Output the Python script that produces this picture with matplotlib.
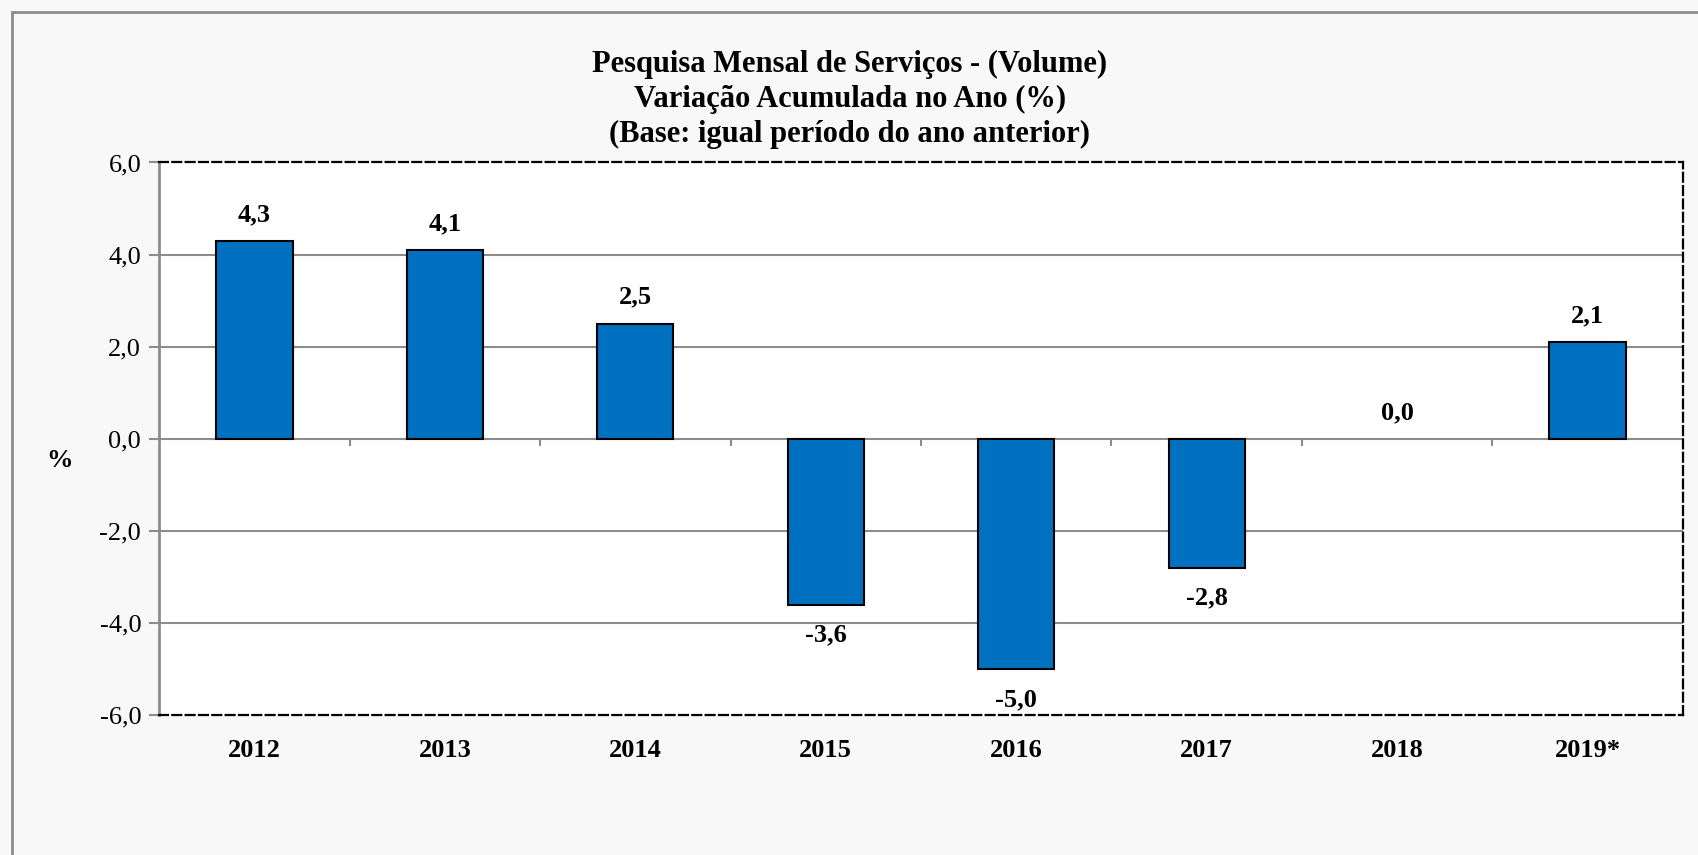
import numpy as np
import matplotlib.pyplot as plt
from matplotlib.patches import Rectangle

# data
years = ['2012', '2013', '2014', '2015', '2016', '2017', '2018', '2019*']
values = [4.3, 4.1, 2.5, -3.6, -5.0, -2.8, 0.0, 2.1]
yticks = [-6.0, -4.0, -2.0, 0.0, 2.0, 4.0, 6.0]
title_lines = ['Pesquisa Mensal de Serviços - (Volume)',
               'Variação Acumulada no Ano (%)',
               '(Base: igual período do ano anterior)']

plt.rcParams['font.family'] = ['Liberation Serif', 'DejaVu Serif']

BAR_COLOR = '#0070C0'
GRID_COLOR = '#8c8c8c'
BG = '#f8f8f8'


def fmt(v):
    return f"{v:.1f}".replace('.', ',')


def main():
    fig = plt.figure(figsize=(16.99, 8.55), dpi=100)
    fig.patch.set_facecolor(BG)

    # outer chart frame (runs past the right/bottom edges)
    fig.patches.append(Rectangle((12 / 1699, -0.05), 1.1, 1 - 12 / 855 + 0.05,
                                 transform=fig.transFigure, fill=False,
                                 edgecolor=GRID_COLOR, linewidth=2))

    ax = fig.add_axes([159.3 / 1699, 1 - 715 / 855,
                       (1682.7 - 159.3) / 1699, (715 - 162.5) / 855])
    ax.set_facecolor('white')

    x = np.arange(len(years))
    # a zero-height bar shows no outline in the original
    edge_w = [1.5 if v != 0 else 0 for v in values]
    ax.bar(x, values, width=0.4, color=BAR_COLOR, edgecolor='black',
           linewidth=edge_w, zorder=3)

    ax.set_ylim(-6, 6)
    ax.set_xlim(-0.5, len(years) - 0.5)
    ax.set_yticks(yticks)
    ax.set_yticklabels([fmt(t) for t in yticks], fontsize=19)
    ax.set_xticks(x)
    ax.set_xticklabels(years, fontsize=19, fontweight='bold')
    ax.tick_params(axis='x', length=0, pad=17)
    ax.tick_params(axis='y', length=7, width=1.5, color=GRID_COLOR, pad=6)

    # gridlines
    for t in yticks[1:-1]:
        ax.axhline(t, color=GRID_COLOR, linewidth=1.5, zorder=1)

    # category boundary ticks on the zero line
    bounds = np.arange(len(years) + 1) - 0.5
    ax.vlines(bounds[1:-1], 0, -0.16, color=GRID_COLOR, linewidth=1.5, zorder=2)

    # border
    for side in ['top', 'right', 'bottom']:
        ax.spines[side].set_linestyle((0, (4, 2)))
        ax.spines[side].set_linewidth(1.6)
        ax.spines[side].set_color('black')
    ax.spines['left'].set_linestyle((0, (3, 1)))
    ax.spines['left'].set_linewidth(2)
    ax.spines['left'].set_color(GRID_COLOR)

    # data labels
    for xi, v in zip(x, values):
        off = 19 if v >= 0 else -22
        ax.annotate(fmt(v), (xi, v), xytext=(0, off), textcoords='offset points',
                    ha='center', va='center', fontsize=19, fontweight='bold')

    fig.text(60 / 1699, 1 - 460 / 855, '%', ha='center', va='center',
             fontsize=19, fontweight='bold')

    for i, line in enumerate(title_lines):
        fig.text(850 / 1699, 1 - (64 + i * 35) / 855, line, ha='center',
                 va='center', fontsize=22, fontweight='bold')

    fig.savefig('out.png', dpi=100, facecolor=fig.get_facecolor())


if __name__ == "__main__":
    main()
